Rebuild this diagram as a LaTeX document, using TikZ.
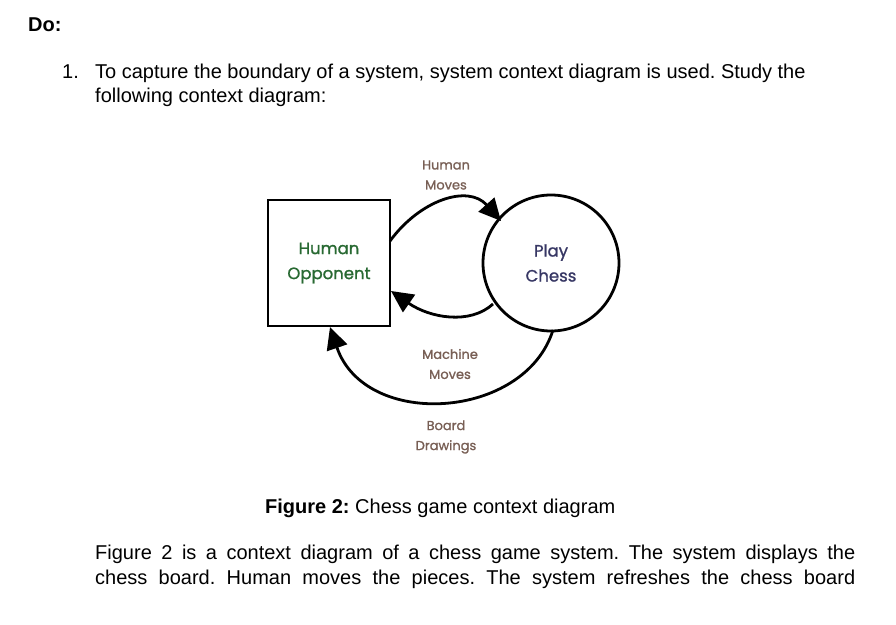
\documentclass[tikz,border=0pt]{standalone}
\usepackage{fontspec}
\setmainfont{Liberation Sans}
\newfontfamily\lblfont[FakeBold=1.2]{Poppins}
\usetikzlibrary{arrows.meta}
\definecolor{oppgreen}{RGB}{40,105,50}
\definecolor{chessblue}{RGB}{55,55,100}
\definecolor{flowbrown}{RGB}{120,95,85}
\frenchspacing
\tikzset{
  bodytext/.style={anchor=base west, inner sep=0pt, font=\fontsize{20}{24}\selectfont},
  lbl/.style={align=center, inner sep=0pt, font=\lblfont\fontsize{13}{20}\selectfont, text=flowbrown},
  bigl/.style={align=center, inner sep=0pt, font=\lblfont\fontsize{16.5}{25}\selectfont},
  flow/.style={line width=2.8pt, -{Triangle[length=22pt,width=21pt]}},
  ent/.style={draw, line width=2.8pt, minimum width=122pt, minimum height=126pt},
  proc/.style={draw, circle, line width=2.8pt, minimum size=136pt}
}
\begin{document}
\begin{tikzpicture}[x=1pt,y=-1pt]
\useasboundingbox (0,0) rectangle (896,624);
\node[bodytext, font=\bfseries\fontsize{20}{24}\selectfont] (do) at (28,31) {Do:};
\node[bodytext] (n1) at (62,78) {1.};
\node[bodytext] (l1) at (95,78) {To capture the boundary of a system, system context diagram is used. Study the};
\node[bodytext] (l2) at (95,102) {following context diagram:};

\node[ent] (opp) at (329,263) {};
\node[bigl, text=oppgreen] (oppt) at (329,263) {Human\\Opponent};
\node[proc] (pc) at (551,263) {};
\node[bigl, text=chessblue] (pct) at (551,263) {Play\\Chess};

\node[lbl] (hm) at (446,175) {Human\\Moves};
\node[lbl] (mm) at (450,364) {Machine\\Moves};
\node[lbl] (bd) at (446,437) {Board\\Drawings};

\coordinate (a1s) at (390,241);
\coordinate (a1e) at (501,221);
\draw[flow] (a1s) .. controls (420,200) and (468,184) .. (a1e);
\coordinate (a2s) at (493,304);
\coordinate (a2e) at (391,291);
\draw[flow] (a2s) .. controls (470,325) and (430,318) .. (a2e);
\coordinate (a3s) at (553,330);
\coordinate (a3e) at (330,327);
\draw[flow] (a3s) .. controls (525,420) and (365,430) .. (a3e);

\node[bodytext] (cap) at (265,513) {\textbf{Figure 2:} Chess game context diagram};
\node[bodytext] (p1) at (95,559) {\makebox[760pt][s]{Figure 2 is a context diagram of a chess game system. The system displays the}};
\node[bodytext] (p2) at (95,584) {\makebox[760pt][s]{chess board. Human moves the pieces. The system refreshes the chess board}};
\end{tikzpicture}
\end{document}
